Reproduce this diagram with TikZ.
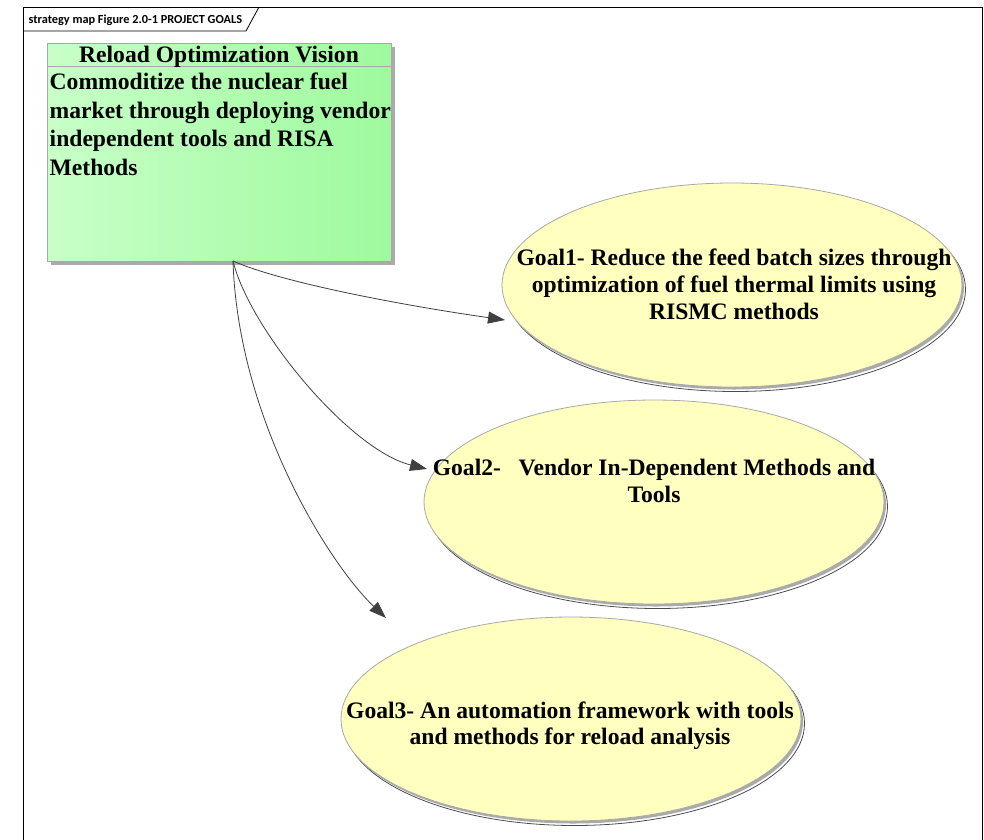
\documentclass[tikz,border=0pt]{standalone}
\usepackage{fontspec}
\setmainfont{Liberation Serif}
\newfontfamily\serifbold{Liberation Serif}[UprightFont={* Bold}]
\newfontfamily\tabfont{Carlito}[UprightFont={* Bold}]
\usetikzlibrary{shapes.geometric,arrows.meta}

\definecolor{visionL}{RGB}{200,255,200}
\definecolor{visionR}{RGB}{158,250,158}
\definecolor{goalfill}{RGB}{255,255,192}
\definecolor{edgegray}{RGB}{168,168,168}
\definecolor{shadowgray}{RGB}{170,170,170}
\definecolor{linkgray}{RGB}{64,64,64}

\tikzset{
  frameline/.style={draw=black, line width=0.8pt},
  visionbox/.style={rectangle, draw=edgegray, line width=0.8pt,
    left color=visionL, right color=visionR, shading angle=90,
    minimum width=344pt, minimum height=218pt, inner sep=0pt},
  visionshadow/.style={rectangle, fill=shadowgray,
    minimum width=344pt, minimum height=218pt, inner sep=0pt},
  goalshape/.style={ellipse, minimum width=460pt, minimum height=204pt,
    inner sep=0pt},
  goal/.style={goalshape, fill=goalfill, draw=edgegray, line width=0.8pt},
  goalband/.style={goalshape, fill=shadowgray},
  goalrim/.style={goalshape, fill=white, draw=black!70, line width=0.8pt},
  bigtext/.style={font=\serifbold\fontsize{23.6}{27}\selectfont, inner sep=0pt},
  link/.style={draw=linkgray, line width=0.8pt,
    -{Triangle[length=17pt,width=12pt]}, fill=none},
}

\begin{document}
\begin{tikzpicture}[x=1pt, y=-1pt]
  \useasboundingbox (0,0) rectangle (984,839);
  \clip (0,0) rectangle (984,839);

  % diagram frame and its name tab
  \draw[frameline] (23,7) rectangle (982,860);
  \draw[frameline] (23,31) -- (246,31) -- (259,7);
  \node[font=\tabfont\fontsize{12.3}{14}\selectfont, anchor=base west, inner sep=0pt]
    (tab) at (28.5,23.5) {strategy map Figure 2.0-1 PROJECT GOALS};

  % vision block (body text anchored on the baseline of its last line)
  \node[visionshadow] (visionsh) at (223,156) {};
  \node[visionbox] (vision) at (219,152) {};
  \draw[edgegray, line width=0.8pt] (47,66) -- (391,66);
  \node[bigtext, anchor=base] (vtitle) at (219,62) {Reload Optimization Vision};
  \node[bigtext, anchor=base west, align=left,
        font=\serifbold\fontsize{23.6}{28.6}\selectfont] (vbody) at (49.5,175.5)
    {Commoditize the nuclear fuel\\market through deploying vendor\\independent tools and RISA\\Methods};

  % goal ellipses with their offset shadows
  \node[goalrim]  (g1r) at (735.5,289.5) {};
  \node[goalband] (g1b) at (734,287.5) {};
  \node[goal]     (g1)  at (732,285) {};
  \node[bigtext, align=center] (g1t) at (734,284)
    {Goal1- Reduce the feed batch sizes through\\optimization of fuel thermal limits using\\RISMC methods};

  \node[goalrim]  (g2r) at (657.5,506.5) {};
  \node[goalband] (g2b) at (656,504.5) {};
  \node[goal]     (g2)  at (654,502) {};
  \node[bigtext, align=center] (g2t) at (654,480.5)
    {Goal2-\ \ \ Vendor In-Dependent Methods and\\Tools};

  \node[goalrim]  (g3r) at (574.5,723.5) {};
  \node[goalband] (g3b) at (573,721.5) {};
  \node[goal]     (g3)  at (571,719) {};
  \node[bigtext, align=center, font=\serifbold\fontsize{23.6}{25.5}\selectfont]
    (g3t) at (570,725.5)
    {Goal3- An automation framework with tools\\and methods for reload analysis};

  % connectors from the vision block to each goal
  \coordinate (src) at (233,261);
  \coordinate (tip1) at (505,320);
  \coordinate (tip2) at (427,469);
  \coordinate (tip3) at (386,618);
  \draw[link] (src) .. controls (280,282) and (400,305) .. (tip1);
  \draw[link] (src) .. controls (250,330) and (350,450) .. (tip2);
  \draw[link] (src) .. controls (238,420) and (330,565) .. (tip3);
\end{tikzpicture}
\end{document}
